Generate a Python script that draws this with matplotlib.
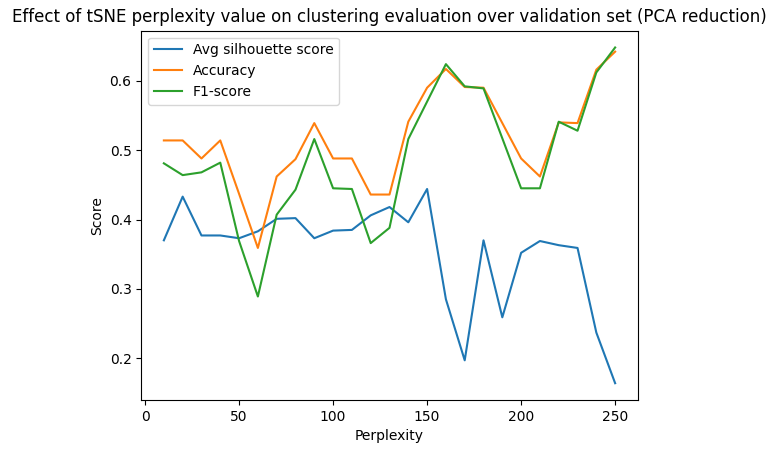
import matplotlib
matplotlib.use("Agg")
import matplotlib.pyplot as plt

perplexity = [10, 20, 30, 40, 50, 60, 70, 80, 90, 100, 110, 120, 130,
              140, 150, 160, 170, 180, 190, 200, 210, 220, 230, 240, 250]
silhouette = [0.370, 0.433, 0.377, 0.377, 0.373, 0.383, 0.401, 0.402, 0.373,
              0.384, 0.385, 0.406, 0.418, 0.396, 0.444, 0.285, 0.197, 0.370,
              0.259, 0.352, 0.369, 0.363, 0.359, 0.237, 0.164]
accuracy = [0.514, 0.514, 0.488, 0.514, 0.437, 0.359, 0.462, 0.487, 0.539,
            0.488, 0.488, 0.436, 0.436, 0.541, 0.590, 0.617, 0.591, 0.590,
            0.539, 0.488, 0.462, 0.540, 0.539, 0.616, 0.642]
f1 = [0.481, 0.464, 0.468, 0.482, 0.369, 0.289, 0.407, 0.443, 0.516,
      0.445, 0.444, 0.366, 0.388, 0.516, 0.570, 0.624, 0.592, 0.589,
      0.517, 0.445, 0.445, 0.541, 0.528, 0.612, 0.648]

fig = plt.figure(figsize=(7.78, 4.53), dpi=100)
ax = fig.add_axes([141.3 / 778, 53 / 453, 496.4 / 778, 369.3 / 453])
ax.plot(perplexity, silhouette, label="Avg silhouette score")
ax.plot(perplexity, accuracy, label="Accuracy")
ax.plot(perplexity, f1, label="F1-score")
ax.set_xlabel("Perplexity")
ax.set_ylabel("Score")
ax.set_title("Effect of tSNE perplexity value on clustering evaluation over validation set (PCA reduction)")
ax.legend(loc="upper left")
fig.savefig("out.png", dpi=100)
